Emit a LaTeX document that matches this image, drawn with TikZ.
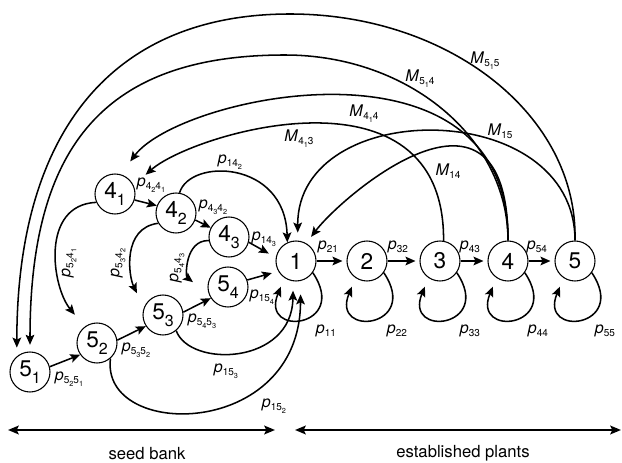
\documentclass[tikz,border=0pt]{standalone}
\usepackage{fontspec}
\setmainfont{TeX Gyre Heros}
\usetikzlibrary{arrows.meta}
\newcommand{\pl}[2]{\textit{#1}{\fontsize{7.5}{8}\selectfont\raisebox{-0.3em}{#2}}}
\newcommand{\ssb}[1]{\raisebox{-0.3em}{\fontsize{5.5}{6}\selectfont #1}}
\newcommand{\sn}[2]{#1\raisebox{-0.3em}{\fontsize{12}{12}\selectfont #2}}
\begin{document}
\begin{tikzpicture}[x=0.75pt,y=-0.75pt,
    n/.style={circle,draw,line width=0.8pt,minimum size=30pt,inner sep=0pt,font=\fontsize{17}{17}\selectfont},
    lab/.style={inner sep=0pt,font=\fontsize{12}{12}\selectfont},
    ar/.style={line width=1.15pt,-{Stealth[length=7.5pt,width=6.5pt,inset=1.5pt]}},
    bar/.style={line width=1.5pt,{Stealth[length=8pt,width=6.5pt,inset=1.5pt]}-{Stealth[length=8pt,width=6.5pt,inset=1.5pt]}}]
  \useasboundingbox (0,0) rectangle (622,463);
  \node[n] (n51) at (30,372) {\sn{5}{1}};
  \node[n] (n52) at (97,343) {\sn{5}{2}};
  \node[n] (n53) at (163,315) {\sn{5}{3}};
  \node[n] (n54) at (228,287) {\sn{5}{4}};
  \node[n] (n41) at (115,194) {\sn{4}{1}};
  \node[n] (n42) at (176,213) {\sn{4}{2}};
  \node[n] (n43) at (229,237) {\sn{4}{3}};
  \foreach \i/\x in {1/296,2/367,3/440,4/508,5/575}
    \node[n] (n\i) at (\x,261) {\i};

  \draw[ar] (n51.15) -- (n52.215);
  \draw[ar] (n52.8) -- (n53.213);
  \draw[ar] (n53.8) -- (n54.213);
  \draw[ar,shorten >=5pt] (n54.20) -- (n1.210);
  \draw[ar] (n41.-17) -- (n42.159);
  \draw[ar] (n42.-20) -- (n43.153);
  \draw[ar,shorten >=6pt] (n43.-15) -- (n1.170);
  \foreach \a/\b in {1/2,2/3,3/4,4/5}
    \draw[ar,shorten >=3pt] (n\a) -- (n\b);
  \foreach \i in {1,...,5}
    \draw[ar,shorten >=7pt] (n\i.-35) .. controls +(37,55) and +(-25,60) .. (n\i.236);

  \draw[ar] (n42.80) .. controls (190,158) and (285,160) .. (n1.115);
  \draw[ar,shorten >=7pt] (n53.-50) .. controls (190,368) and (292,365) .. (n1.262);
  \draw[ar,shorten >=10pt] (n52.-49) .. controls (100,440) and (300,440) .. (n1.283);
  \draw[ar,shorten >=11.5pt] (n41.204) .. controls (40,205) and (52,287) .. (n52.127);
  \draw[ar,shorten >=12pt] (n42.210) .. controls (122,228) and (128.6,276) .. (n53.159);
  \draw[ar,shorten >=15pt] (n43.190) .. controls (185,240) and (185.4,276.3) .. (n54.201);

  \draw[ar,shorten >=12pt] (n3.80) .. controls (445,58) and (193,133) .. (n41.25);
  \draw[ar,shorten >=12pt] (n4.north) .. controls (510,25) and (180,95) .. (n41.74);
  \draw[ar,shorten >=5pt] (n4.north) .. controls (508,138) and (408,55) .. (285,55)
    .. controls (106.5,55) and (30,144) .. (n51.north);
  \draw[ar,shorten >=6.5pt] (n5.north) .. controls (578,115) and (449,14) .. (290,14)
    .. controls (113,14) and (17,131) .. (n51.130);
  \draw[ar,shorten >=6pt] (n5.north) .. controls (575,96) and (297,96) .. (n1.85);
  \draw[ar,shorten >=6pt] (n4.north) .. controls (508,53) and (342,196) .. (n1.60);

  \node[lab] (l5251) at (69,379) {\pl{p}{5\ssb{2}5\ssb{1}}};
  \node[lab] (l5352) at (136,350) {\pl{p}{5\ssb{3}5\ssb{2}}};
  \node[lab] (l5453) at (202,321) {\pl{p}{5\ssb{4}5\ssb{3}}};
  \node[lab] (l154) at (262,297) {\pl{p}{15\ssb{4}}};
  \node[lab] (l4241) at (151,185) {\pl{p}{4\ssb{2}4\ssb{1}}};
  \node[lab] (l4342) at (213,207) {\pl{p}{4\ssb{3}4\ssb{2}}};
  \node[lab] (l143) at (264,239) {\pl{p}{14\ssb{3}}};
  \node[lab] (l142) at (230,162) {\pl{p}{14\ssb{2}}};
  \node[lab,rotate=90] (l5241) at (69,263) {\pl{p}{5\ssb{2}4\ssb{1}}};
  \node[lab,rotate=90] (l5342) at (118,263) {\pl{p}{5\ssb{3}4\ssb{2}}};
  \node[lab,rotate=90] (l5443) at (177,268) {\pl{p}{5\ssb{4}4\ssb{3}}};
  \node[lab] (l153) at (226,371) {\pl{p}{15\ssb{3}}};
  \node[lab] (l152) at (274,406) {\pl{p}{15\ssb{2}}};
  \foreach \i in {1,...,5}
    \node[lab] (l\i\i) at ([shift={(30,70)}]n\i.center) {\pl{p}{\i\i}};
  \node[lab] (l21) at (328,247) {\pl{p}{21}};
  \node[lab] (l32) at (398,247) {\pl{p}{32}};
  \node[lab] (l43) at (470,247) {\pl{p}{43}};
  \node[lab] (l54) at (537,247) {\pl{p}{54}};
  \node[lab] (m515) at (485,61) {\pl{M}{5\ssb{1}5}};
  \node[lab] (m514) at (420,79) {\pl{M}{5\ssb{1}4}};
  \node[lab] (m414) at (364,114) {\pl{M}{4\ssb{1}4}};
  \node[lab] (m413) at (299,139) {\pl{M}{4\ssb{1}3}};
  \node[lab] (m15) at (500,131) {\pl{M}{15}};
  \node[lab] (m14) at (448,171) {\pl{M}{14}};

  \coordinate (sbl) at (8,430);
  \coordinate (sbr) at (275,430);
  \coordinate (epl) at (295,430);
  \coordinate (epr) at (621,430);
  \draw[bar] (sbl) -- (sbr);
  \draw[bar] (epl) -- (epr);
  \node[font=\fontsize{12.5}{13}\selectfont] (sb) at (147,454) {seed bank};
  \node[font=\fontsize{12.5}{13}\selectfont] (ep) at (463,453) {established plants};
\end{tikzpicture}
\end{document}
